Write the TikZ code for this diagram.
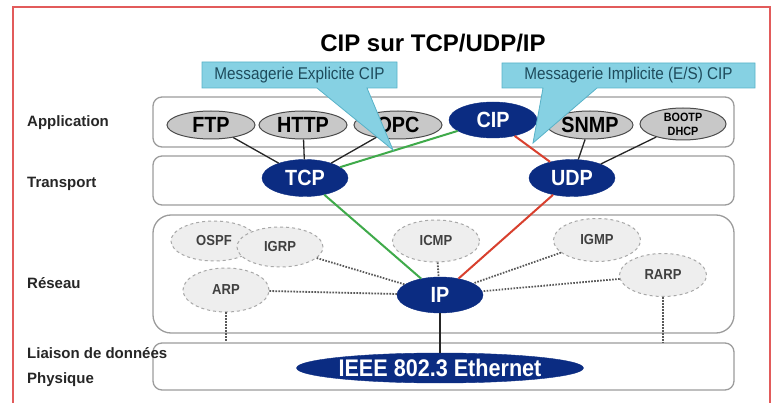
\documentclass[tikz,border=0pt]{standalone}
\usepackage{fontspec}
\setmainfont{Liberation Sans}
\newfontfamily\narrowsans[FakeStretch=0.9]{Liberation Sans}
\usetikzlibrary{shapes.geometric,calc}
\definecolor{FrameRed}{HTML}{E25B5B}
\definecolor{LayerGray}{HTML}{9C9C9C}
\definecolor{NavyBlue}{HTML}{0B2C82}
\definecolor{ProtoGray}{HTML}{C8C8C8}
\definecolor{DashFill}{HTML}{EEEEEE}
\definecolor{DashLine}{HTML}{A8A8A8}
\definecolor{CalloutCyan}{HTML}{86D1E3}
\definecolor{CalloutEdge}{HTML}{58B2C8}
\definecolor{CalloutText}{HTML}{1E4B5C}
\definecolor{LinkGreen}{HTML}{3FAA4A}
\definecolor{LinkRed}{HTML}{D8402E}

\begin{document}
\begin{tikzpicture}[x=1pt, y=-1pt,
  layer/.style={draw=LayerGray, line width=1.3pt, rounded corners=9pt, fill=white, inner sep=0pt},
  layerlabel/.style={anchor=west, inner sep=0pt, text=black!85, font=\bfseries\fontsize{15}{15}\selectfont},
  proto/.style={ellipse, draw=black!70, line width=1pt, fill=ProtoGray, inner sep=0pt, minimum width=88pt, minimum height=28pt, font=\narrowsans\bfseries\fontsize{22}{22}\selectfont},
  core/.style={ellipse, draw=NavyBlue, fill=NavyBlue, text=white, inner sep=0pt, minimum width=86pt, minimum height=37pt, font=\narrowsans\bfseries\fontsize{22}{22}\selectfont},
  aux/.style={ellipse, draw=DashLine, dashed, line width=1pt, fill=DashFill, inner sep=0pt, minimum width=87pt, minimum height=42pt, text=black!75, font=\narrowsans\bfseries\fontsize{14.5}{14.5}\selectfont},
  callout/.style={fill=CalloutCyan, draw=CalloutEdge, line width=0.8pt, line join=miter},
  calloutlabel/.style={text=CalloutText, font=\narrowsans\fontsize{17}{17}\selectfont},
  wire/.style={black!85, line width=1.3pt},
  greenwire/.style={LinkGreen, line width=2pt},
  redwire/.style={LinkRed, line width=2pt},
  dots/.style={black!65, line width=1.8pt, dash pattern=on 1.6pt off 1.4pt}
]
\useasboundingbox (0,0) rectangle (774,403);
\draw[FrameRed, line width=2pt] (13,403) -- (13,7) -- (770,7) -- (770,403);

\node[font=\bfseries\fontsize{24}{24}\selectfont] (title) at (433,43) {CIP sur TCP/UDP/IP};

\node[layer, minimum width=581pt, minimum height=50pt] (applayer) at (443.5,122) {};
\node[layer, minimum width=581pt, minimum height=49pt] (translayer) at (443.5,180.5) {};
\node[layer, rounded corners=18pt, minimum width=581pt, minimum height=118pt] (netlayer) at (443.5,274) {};
\node[layer, minimum width=581pt, minimum height=47pt] (linklayer) at (443.5,366.5) {};

\node[proto] (ftp) at (211,125) {FTP};
\node[proto] (http) at (303,125) {HTTP};
\node[proto] (opc) at (398,125) {OPC};
\node[core, minimum width=88pt, minimum height=36pt] (cip) at (493,120) {CIP};
\node[proto, minimum width=86pt] (snmp) at (590,125) {SNMP};
\node[proto, minimum width=86pt, minimum height=32pt, align=center, font=\narrowsans\bfseries\fontsize{12}{14}\selectfont] (bootp) at (683,124) {BOOTP\\DHCP};

\node[core] (tcp) at (305,178) {TCP};
\node[core] (udp) at (572,178) {UDP};

\node[aux, minimum width=86pt, minimum height=40pt] (ospf) at (214,241) {OSPF};
\node[aux, minimum width=86pt, minimum height=40pt] (igrp) at (280,247) {IGRP};
\node[aux, minimum width=86pt, minimum height=44pt] (arp) at (226,290) {ARP};
\node[aux] (icmp) at (436,241) {ICMP};
\node[aux, minimum height=43pt] (igmp) at (597,240) {IGMP};
\node[aux, minimum height=43pt] (rarp) at (663,275) {RARP};
\node[core, minimum width=86pt, minimum height=36pt] (ip) at (440,295) {IP};

\node[core, minimum width=260pt, minimum height=30pt, font=\narrowsans\bfseries\fontsize{24}{24}\selectfont] (ether) at (440,368) {IEEE 802.3 Ethernet};

\draw[wire] (tcp) -- (ftp);
\draw[wire] (tcp) -- (http);
\draw[wire] (tcp) -- (opc);
\draw[wire] (udp) -- (snmp);
\draw[wire] (udp) -- (bootp);
\draw[greenwire] (cip) -- (tcp);
\draw[redwire] (cip) -- (udp);
\draw[greenwire] (tcp) -- (ip);
\draw[redwire] (udp) -- (ip);
\draw[wire] (ip) -- (ether);
\draw[dots] (igrp) -- (ip);
\draw[dots] (arp) -- (ip);
\draw[dots] (icmp) -- (ip);
\draw[dots] (igmp) -- (ip);
\draw[dots] (rarp) -- (ip);
\draw[dots] (arp) -- (arp.south |- linklayer.north);
\draw[dots] (rarp) -- (rarp.south |- linklayer.north);

\path[callout] (202,62) -- (397,62) -- (397,88) -- (367,88) -- (393,150) -- (317,88) -- (202,88) -- cycle;
\path[callout] (502,63) -- (755,63) -- (755,88) -- (597,88) -- (533,143) -- (543,88) -- (502,88) -- cycle;
\node[calloutlabel] (explicit) at (299.5,75) {Messagerie Explicite CIP};
\node[calloutlabel] (implicit) at (628.5,75.5) {Messagerie Implicite (E/S) CIP};

\node[layerlabel] (lapp) at (27,123) {Application};
\node[layerlabel] (ltrans) at (27,184) {Transport};
\node[layerlabel] (lnet) at (27,283) {Réseau};
\node[layerlabel] (llink) at (27,353) {Liaison de données};
\node[layerlabel] (lphys) at (27,380) {Physique};
\end{tikzpicture}
\end{document}
